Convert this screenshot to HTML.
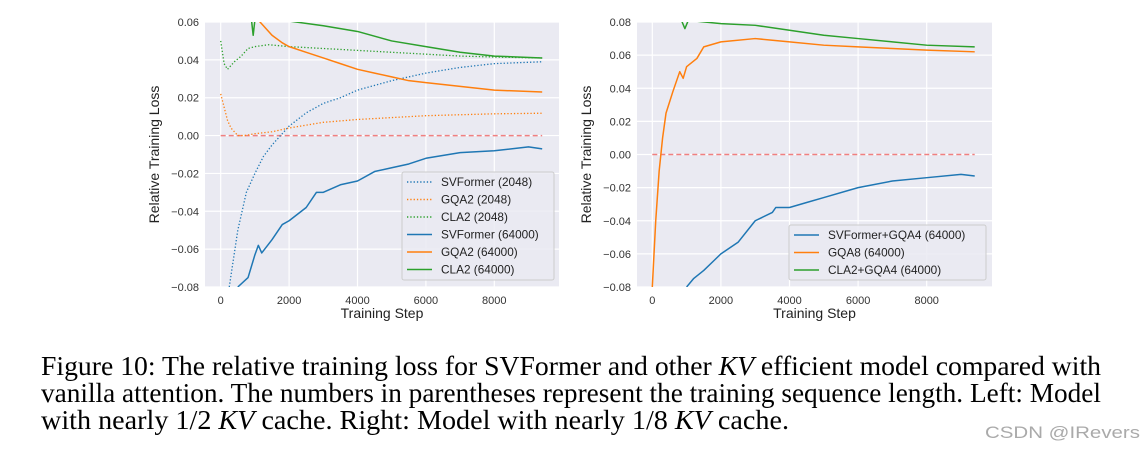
<!DOCTYPE html>
<html><head><meta charset="utf-8"><style>
body{margin:0;background:#fff;width:1148px;height:452px;overflow:hidden;position:relative}
</style></head><body>
<svg id="chart" width="1148" height="330" style="position:absolute;left:0;top:0" font-family="Liberation Sans, DejaVu Sans, sans-serif"></svg>
<svg width="1148" height="122" style="position:absolute;left:0;top:330px" font-family="Liberation Serif, serif" font-size="27">
<text x="41" y="45" textLength="1060" lengthAdjust="spacingAndGlyphs">Figure 10: The relative training loss for SVFormer and other <tspan font-style="italic">KV</tspan> efficient model compared with</text>
<text x="41" y="72" textLength="1060" lengthAdjust="spacingAndGlyphs">vanilla attention. The numbers in parentheses represent the training sequence length. Left: Model</text>
<text x="41" y="99" textLength="748" lengthAdjust="spacingAndGlyphs">with nearly 1/2 <tspan font-style="italic">KV</tspan> cache. Right: Model with nearly 1/8 <tspan font-style="italic">KV</tspan> cache.</text>
<text x="985" y="108" font-family="Liberation Sans, sans-serif" font-size="17" fill="#aaa" textLength="155" lengthAdjust="spacingAndGlyphs">CSDN @IRevers</text>
</svg>
<script>
const leftXTicks=[0,2000,4000,6000,8000];
const leftYTicks=[-0.08,-0.06,-0.04,-0.02,0.00,0.02,0.04,0.06];
const rightYTicks=[-0.08,-0.06,-0.04,-0.02,0.00,0.02,0.04,0.06,0.08];
const L_svf2048=[[250,-0.08],[500,-0.05],[750,-0.03],[1000,-0.02],[1250,-0.011],[1500,-0.005],[2000,0.005],[2500,0.012],[3000,0.017],[3500,0.02],[4000,0.024],[5000,0.029],[6000,0.033],[7000,0.036],[8000,0.038],[9400,0.039]];
const L_gqa2048=[[0,0.022],[100,0.015],[200,0.008],[300,0.004],[500,0.0],[700,0.0],[1000,0.001],[1500,0.002],[2000,0.004],[3000,0.007],[4000,0.0085],[5000,0.0095],[6000,0.0105],[7000,0.011],[8000,0.0115],[9400,0.0118]];
const L_cla2048=[[0,0.05],[100,0.038],[200,0.035],[400,0.039],[600,0.042],[800,0.046],[1000,0.047],[1400,0.048],[2000,0.047],[3000,0.046],[4000,0.045],[5000,0.044],[6000,0.043],[7000,0.042],[8000,0.0415],[9400,0.041]];
const L_svf64=[[500,-0.08],[800,-0.075],[1000,-0.063],[1100,-0.058],[1200,-0.062],[1500,-0.055],[1800,-0.047],[2000,-0.045],[2500,-0.038],[2800,-0.03],[3000,-0.03],[3500,-0.026],[4000,-0.024],[4500,-0.019],[5000,-0.017],[5500,-0.015],[6000,-0.012],[7000,-0.009],[8000,-0.008],[9000,-0.006],[9400,-0.007]];
const L_gqa64=[[1100,0.061],[1500,0.053],[1800,0.049],[2000,0.047],[2500,0.044],[3000,0.041],[3500,0.038],[4000,0.035],[4500,0.033],[5000,0.031],[5500,0.029],[6000,0.028],[7000,0.026],[8000,0.024],[9400,0.023]];
const L_cla64=[[900,0.061],[950,0.053],[1000,0.061],[2000,0.0605],[3000,0.058],[4000,0.055],[5000,0.05],[6000,0.047],[7000,0.044],[8000,0.042],[9400,0.041]];
const R_svf=[[1000,-0.08],[1200,-0.075],[1500,-0.07],[1800,-0.064],[2000,-0.06],[2500,-0.053],[3000,-0.04],[3500,-0.035],[3600,-0.032],[4000,-0.032],[4500,-0.029],[5000,-0.026],[6000,-0.02],[7000,-0.016],[8000,-0.014],[9000,-0.012],[9400,-0.013]];
const R_gqa8=[[0,-0.08],[100,-0.04],[200,-0.01],[300,0.01],[400,0.025],[600,0.038],[800,0.05],[900,0.046],[1000,0.053],[1300,0.058],[1500,0.065],[2000,0.068],[3000,0.07],[4000,0.068],[5000,0.066],[6000,0.065],[7000,0.064],[8000,0.063],[9400,0.062]];
const R_cla=[[850,0.081],[950,0.076],[1050,0.081],[2000,0.079],[3000,0.078],[4000,0.075],[5000,0.072],[6000,0.07],[7000,0.068],[8000,0.066],[9400,0.065]];
const NS='http://www.w3.org/2000/svg';
const svg=document.getElementById('chart');
function mk(t,a,p){const e=document.createElementNS(NS,t);for(const k in a)e.setAttribute(k,a[k]);(p||svg).appendChild(e);return e;}
function panel(id,box,x0px,x8px,yTicks,series,leg){
 const [bx0,by0,bx1,by1]=box;
 const xs=v=>x0px+(x8px-x0px)*v/8000;
 const ymin=yTicks[0],ymax=yTicks[yTicks.length-1];
 const ys=v=>by1-(v-ymin)/(ymax-ymin)*(by1-by0);
 const g=mk('g',{});
 
 
 mk('rect',{x:bx0,y:by0,width:bx1-bx0,height:by1-by0,fill:'#eaeaf2'},g);
 const cp=mk('clipPath',{id:id+'clip'},g);
 mk('rect',{x:bx0,y:by0,width:bx1-bx0,height:by1-by0},cp);
 leftXTicks.forEach(t=>{mk('line',{x1:xs(t),x2:xs(t),y1:by0,y2:by1,stroke:'#fff','stroke-width':1.2},g);
  const tx=mk('text',{x:xs(t),y:by1+17,'font-size':11,fill:'#333','text-anchor':'middle'},g);tx.textContent=t;
  
  });
 yTicks.forEach(t=>{mk('line',{x1:bx0,x2:bx1,y1:ys(t),y2:ys(t),stroke:'#fff','stroke-width':1.2},g);
  const tx=mk('text',{x:bx0-6,y:ys(t)+4,'font-size':11,fill:'#333','text-anchor':'end'},g);tx.textContent=(t<0?'\u2212':'')+Math.abs(t).toFixed(2);
  
  });
 const xl=mk('text',{x:(bx0+bx1)/2,y:by1+31,'font-size':14,fill:'#222','text-anchor':'middle'},g);xl.textContent='Training Step';
 
 
 const yl=mk('text',{x:0,y:0,'font-size':14,fill:'#222','text-anchor':'middle',transform:'translate('+(bx0-46)+','+((by0+by1)/2)+') rotate(-90)'},g);yl.textContent='Relative Training Loss';
 
 
 const cg=mk('g',{'clip-path':'url(#'+id+'clip)'},g);
 const z=mk('line',{x1:xs(0),x2:xs(9400),y1:ys(0),y2:ys(0),stroke:'#f08080','stroke-width':1.5,'stroke-dasharray':'5,3'},cg);
 
 
 series.forEach(s=>{const p=mk('polyline',{points:s.d.map(q=>xs(q[0])+','+ys(q[1])).join(' '),fill:'none',stroke:s.c,'stroke-width':s.dot?1.3:1.5,'stroke-dasharray':s.dot?'1.3,2':'none','stroke-linejoin':'round'},cg);
  
  });
 const lg=mk('g',{},g);
 
 
 mk('rect',{x:leg[0],y:leg[1],width:leg[2],height:leg[3],fill:'#eaeaf2',stroke:'#ccc','fill-opacity':0.85,rx:2},lg);
 series.forEach((s,i)=>{const yy=leg[1]+10+i*17.5;
  mk('line',{x1:leg[0]+5,x2:leg[0]+30,y1:yy,y2:yy,stroke:s.c,'stroke-width':1.5,'stroke-dasharray':s.dot?'1.3,2':'none'},lg);
  const t=mk('text',{x:leg[0]+39,y:yy+4,'font-size':11.8,fill:'#222'},lg);t.textContent=s.label;
  
  });
}
const B='#1f77b4',O='#ff7f0e',G='#2ca02c';
panel('left',[205,22,559,287],220.7,494.3,leftYTicks,[
 {d:L_svf2048,c:B,dot:1,n:'svformer-2048-line',label:'SVFormer (2048)'},
 {d:L_gqa2048,c:O,dot:1,n:'gqa2-2048-line',label:'GQA2 (2048)'},
 {d:L_cla2048,c:G,dot:1,n:'cla2-2048-line',label:'CLA2 (2048)'},
 {d:L_svf64,c:B,n:'svformer-64000-line',label:'SVFormer (64000)'},
 {d:L_gqa64,c:O,n:'gqa2-64000-line',label:'GQA2 (64000)'},
 {d:L_cla64,c:G,n:'cla2-64000-line',label:'CLA2 (64000)'}],[402,172,152,108]);
panel('right',[637,22,992,287],652.3,926.7,rightYTicks,[
 {d:R_svf,c:B,n:'svformer-gqa4-line',label:'SVFormer+GQA4 (64000)'},
 {d:R_gqa8,c:O,n:'gqa8-line',label:'GQA8 (64000)'},
 {d:R_cla,c:G,n:'cla2-gqa4-line',label:'CLA2+GQA4 (64000)'}],[789,225,197,55]);
</script>
</body></html>
